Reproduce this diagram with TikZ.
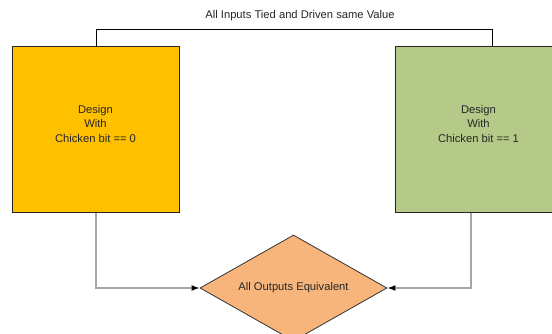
\documentclass[tikz,border=0pt]{standalone}
\usepackage{fontspec}
\setmainfont{Liberation Sans}
\usetikzlibrary{shapes.geometric,arrows.meta}
\definecolor{boxorange}{HTML}{FFC000}
\definecolor{boxgreen}{HTML}{B5CA88}
\definecolor{diafill}{HTML}{F7B57C}
\definecolor{linegray}{HTML}{A6A6A6}
\begin{document}
\begin{tikzpicture}[x=1pt,y=-1pt,
  txt/.style={font=\fontsize{11.2}{14.5}\selectfont, text=black!85},
  designbox/.style={draw=black!85, line width=0.9pt, minimum width=167pt, minimum height=166pt, inner sep=0pt},
  boxtext/.style={align=center, inner sep=0pt, txt},
  decision/.style={diamond, draw=black!80, line width=0.8pt, fill=diafill, minimum width=187pt, minimum height=106pt, inner sep=0pt, aspect=1.7, txt},
  outline/.style={draw=linegray, line width=1.3pt, -{Latex[length=8pt,width=6pt,black]}},
  tieline/.style={draw=black, line width=0.9pt}
]
\useasboundingbox (0,0) rectangle (552,334);
\node[designbox, fill=boxorange] (left) at (95.5,129.5) {};
\node[designbox, fill=boxgreen] (right) at (478.5,129.5) {};
\node[boxtext] (lefttext) at ([yshift=6pt]left.center) {Design\\With\\Chicken bit == 0};
\node[boxtext] (righttext) at ([yshift=6pt]right.center) {Design\\With\\Chicken bit == 1};
\node[decision] (dia) at (293.5,288) {All Outputs Equivalent};
\node[txt] (title) at (300,16) {All Inputs Tied and Driven same Value};
\coordinate (tl) at ([xshift=0.5pt]left.north);
\coordinate (tr) at ([xshift=13.5pt]right.north);
\draw[tieline] (tl) -- ++(0,-17) -| (tr);
\draw[outline] ([xshift=0.5pt]left.south) |- (dia.west);
\draw[outline] ([xshift=-7.5pt]right.south) |- (dia.east);
\end{tikzpicture}
\end{document}
